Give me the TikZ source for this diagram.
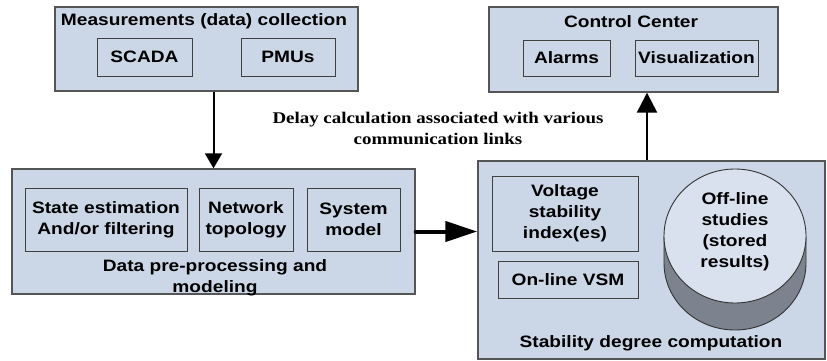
\documentclass[tikz,border=0pt]{standalone}
\usepackage{fontspec}
\setmainfont{Liberation Sans}[FakeStretch=1.16]
\newfontfamily\timesfont{Liberation Serif}[FakeStretch=1.16]
\usepackage{tikz}
\usetikzlibrary{arrows.meta}
\definecolor{boxfill}{RGB}{203,215,230}
\definecolor{boxline}{RGB}{85,85,85}
\definecolor{cylside}{RGB}{124,131,142}
\definecolor{cyltop}{RGB}{216,225,237}
\begin{document}
\begin{tikzpicture}[x=1pt,y=-1pt,
    outerbox/.style={draw=boxline,line width=1.4pt,fill=boxfill,inner sep=0pt},
    innerbox/.style={draw=black!75,line width=0.9pt,inner sep=0pt,align=center,font=\bfseries\fontsize{16.5}{21}\selectfont},
    boxtitle/.style={inner sep=0pt,align=center,font=\bfseries\fontsize{16.5}{21}\selectfont}]
    \useasboundingbox (0,0) rectangle (827,361);
    % outer boxes
    \node[outerbox,minimum width=303,minimum height=84] (meas) at (206.5,49) {};
    \node[outerbox,minimum width=289,minimum height=85] (ctrl) at (633.5,49.5) {};
    \node[outerbox,minimum width=403,minimum height=125] (data) at (213.5,231.5) {};
    \node[outerbox,minimum width=347,minimum height=198] (stab) at (651.5,260) {};
    % titles
    \node[boxtitle] (meastitle) at (204,21) {Measurements (data) collection};
    \node[boxtitle] (ctrltitle) at (631,22) {Control Center};
    \node[boxtitle] (datatitle) at (215,277.5) {Data pre-processing and\\modeling};
    \node[boxtitle] (stabtitle) at (651,343) {Stability degree computation};
    % inner boxes
    \node[innerbox,minimum width=95,minimum height=38] (scada) at (144.5,57) {SCADA};
    \node[innerbox,minimum width=94,minimum height=38] (pmus) at (288,57) {PMUs};
    \node[innerbox,minimum width=87,minimum height=36] (alarms) at (566.5,58) {Alarms};
    \node[innerbox,minimum width=123,minimum height=36] (visual) at (696.5,58) {Visualization};
    \node[innerbox,minimum width=162,minimum height=63] (state) at (106,219.5) {State estimation\\And/or filtering};
    \node[innerbox,minimum width=94,minimum height=63] (topo) at (246,219.5) {Network\\topology};
    \node[innerbox,minimum width=93,minimum height=63] (model) at (353.5,219.5) {System\\model};
    \node[innerbox,minimum width=146,minimum height=75] (vsi) at (565,213.5) {Voltage\\stability\\index(es)};
    \node[innerbox,minimum width=140,minimum height=37] (vsm) at (568,279.5) {On-line VSM};
    % off-line studies cylinder
    \fill[cylside] (664,236) -- (664,263) arc[start angle=180,end angle=360,x radius=71pt,y radius=67pt] -- (806,236) -- cycle;
    \draw[black!80,line width=0.9pt] (664,236) -- (664,263) arc[start angle=180,end angle=360,x radius=71pt,y radius=67pt] -- (806,236);
    \draw[black!80,line width=0.9pt,fill=cyltop] (735,236) ellipse[x radius=71pt,y radius=67pt];
    \node[boxtitle] (offline) at (735,232) {Off-line\\studies\\(stored\\results)};
    % delay label
    \node[inner sep=0pt,align=center,font=\timesfont\bfseries\fontsize{16.3}{21}\selectfont] (delay) at (438,128.5) {Delay calculation associated with various\\communication links};
    % connectors
    \coordinate (upx) at (647,0);
    \draw[line width=2pt,-{Triangle[length=15pt,width=17pt]}] (meas.south -| data.north) -- (data.north);
    \draw[line width=4pt,line cap=round,-{Triangle[length=32pt,width=20pt]}] (data.east) -- (data.east -| stab.west);
    \draw[line width=2.5pt,-{Triangle[length=20pt,width=20pt]}] (stab.north -| upx) -- (ctrl.south -| upx);
\end{tikzpicture}
\end{document}
